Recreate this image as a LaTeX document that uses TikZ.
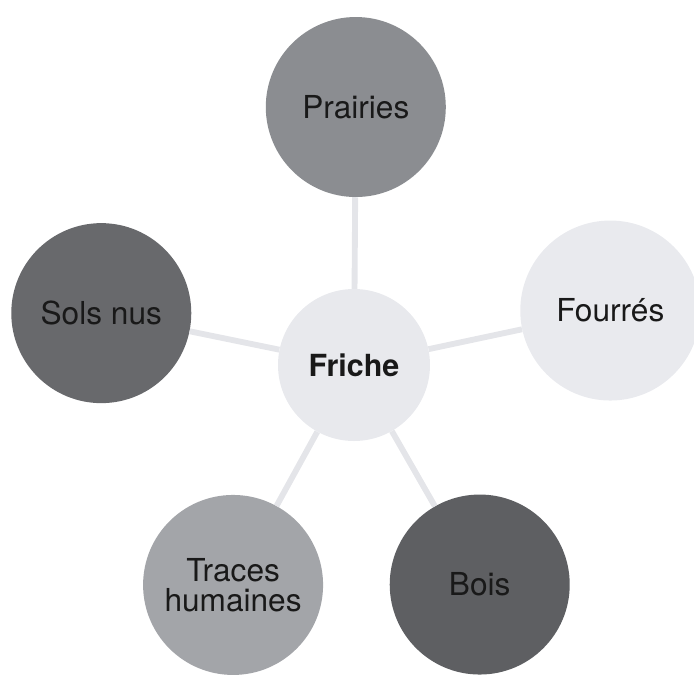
\documentclass[tikz,border=0pt]{standalone}
\usepackage{fontspec}
\setmainfont{TeX Gyre Heros}
\usepackage{tikz}
\usetikzlibrary{positioning}
\definecolor{prairiesclr}{HTML}{8B8D91}
\definecolor{fourresclr}{HTML}{E9EAEE}
\definecolor{fricheclr}{HTML}{E8E9ED}
\definecolor{boisclr}{HTML}{5E5F62}
\definecolor{tracesclr}{HTML}{A3A5A9}
\definecolor{solsclr}{HTML}{68696C}
\definecolor{lienclr}{HTML}{E4E5E9}
\tikzset{
    milieu/.style={
           circle,
           minimum size=5.4cm,
           inner sep=0pt,
           align=center,
           text=black!90,
           font=\fontsize{27}{26}\selectfont
           },
    centre/.style={
           milieu,
           minimum size=4.56cm,
           font=\fontsize{26}{26}\selectfont\bfseries
           },
    lien/.style={
           draw=lienclr,
           line width=5pt
           }
}
\begin{document}
\begin{tikzpicture}
%\draw[help lines] (-10.62,-9.33) grid (10.20,10.95);
   \useasboundingbox (-10.62,-9.33) rectangle (10.20,10.95);
   \node[centre, fill=fricheclr] (friche) at (0,0) {Friche};
   \node[milieu, fill=prairiesclr] (prairies) at (89.6:7.74) {Prairies};
   \node[milieu, fill=fourresclr] (fourres) at (12:7.86) {Fourrés};
   \node[milieu, fill=boisclr] (bois) at (-60.2:7.59) {Bois};
   \node[milieu, fill=tracesclr] (traces) at (-118.8:7.53) {Traces\\humaines};
   \node[milieu, fill=solsclr] (sols) at (168.4:7.74) {Sols nus};
   \path
    (friche) edge[lien] (prairies)
    (friche) edge[lien] (fourres)
    (friche) edge[lien] (bois)
    (friche) edge[lien] (traces)
    (friche) edge[lien] (sols);
\end{tikzpicture}
\end{document}
